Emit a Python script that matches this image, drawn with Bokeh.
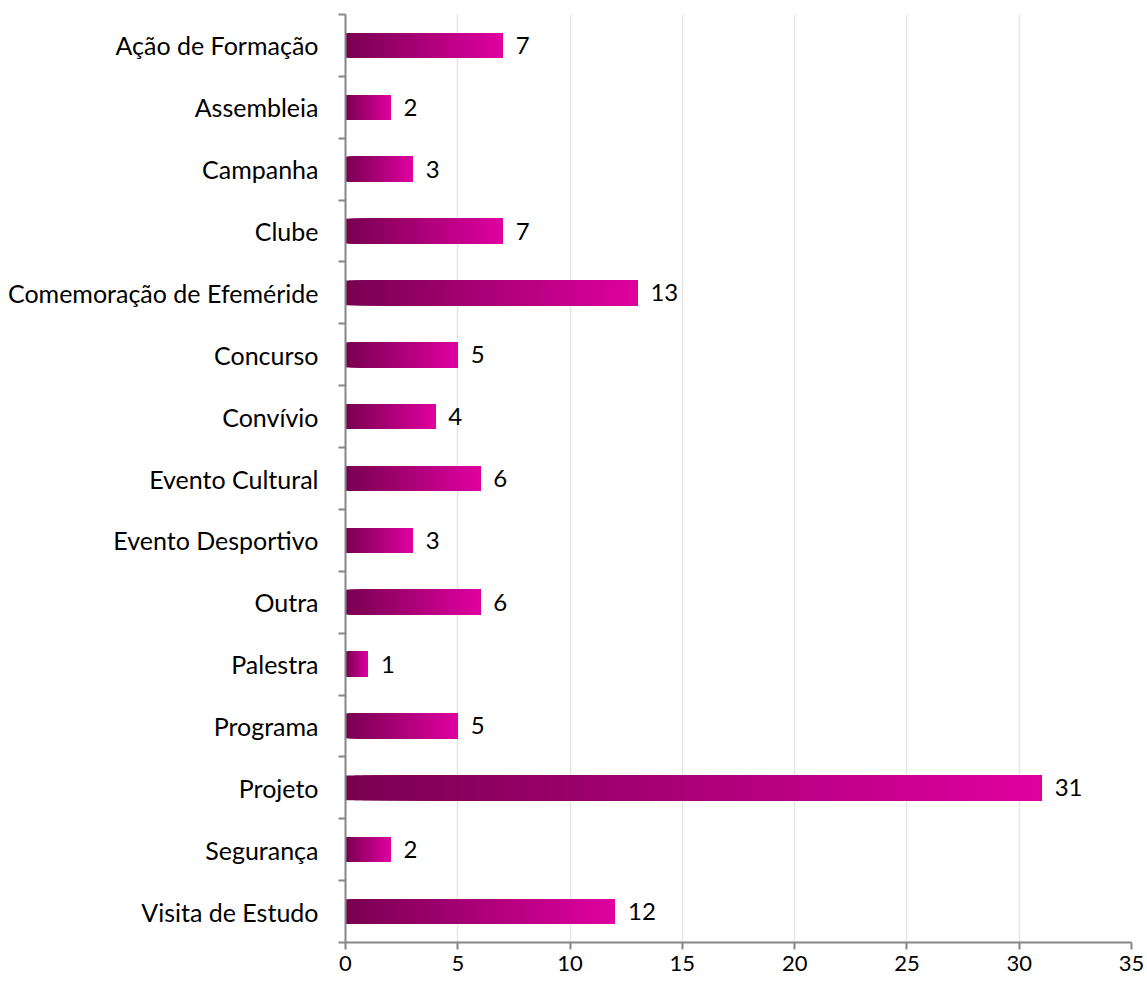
from bokeh.plotting import figure
from bokeh.models import FixedTicker, ColumnDataSource, Range1d
from bokeh.core.properties import value as val
from bokeh.embed import file_html
from bokeh.resources import INLINE

categories = ["Ação de Formação", "Assembleia", "Campanha", "Clube",
              "Comemoração de Efeméride", "Concurso", "Convívio", "Evento Cultural",
              "Evento Desportivo", "Outra", "Palestra", "Programa", "Projeto",
              "Segurança", "Visita de Estudo"]
values = [7, 2, 3, 7, 13, 5, 4, 6, 3, 6, 1, 5, 31, 2, 12]
x_ticks = [0, 5, 10, 15, 20, 25, 30, 35]

FONT = "Lato"
n = len(categories)
ypos = [n - 1 - i for i in range(n)]

p = figure(frame_width=786, frame_height=928, output_backend="svg", toolbar_location=None,
           x_range=Range1d(0, 35), y_range=Range1d(-0.5, n - 0.5),
           min_border_left=345, min_border_top=14, min_border_right=14, min_border_bottom=44)
p.outline_line_color = None
p.background_fill_color = "white"

# gradient bars: each bar drawn as stacked slices (each slice runs to the bar end)
N = 80
c0 = (0x78, 0x00, 0x50)
c1 = (0xE0, 0x00, 0xA0)
L, R, Y, C = [], [], [], []
for v, y in zip(values, ypos):
    for k in range(N):
        t = (k + 0.5) / N
        col = tuple(int(round(a + (b - a) * t)) for a, b in zip(c0, c1))
        L.append(v * k / N)
        R.append(v)
        Y.append(y)
        C.append("#%02x%02x%02x" % col)
p.hbar(y="y", left="l", right="r", height=0.4, fill_color="c", line_color=None,
       source=ColumnDataSource(dict(l=L, r=R, y=Y, c=C)))

src = ColumnDataSource(dict(x=values, y=ypos, t=[str(v) for v in values]))
p.text(x="x", y="y", text="t", source=src, x_offset=13, text_baseline="middle",
       text_align="left", text_font_size="24px", text_color="black", text_font=val(FONT))

# x axis
p.xaxis.ticker = FixedTicker(ticks=x_ticks)
p.xaxis.axis_line_color = "#868686"
p.xaxis.axis_line_width = 2
p.xaxis.major_tick_line_color = "#868686"
p.xaxis.major_tick_line_width = 2
p.xaxis.major_tick_in = 0
p.xaxis.major_tick_out = 7
p.xaxis.minor_tick_line_color = None
p.xaxis.major_label_text_font = FONT
p.xaxis.major_label_text_font_size = "22px"
p.xaxis.major_label_text_color = "black"
p.xaxis.major_label_standoff = 6

# y axis: labels at centers, ticks at boundaries
p.yaxis.ticker = FixedTicker(ticks=ypos, minor_ticks=[i - 0.5 for i in range(n + 1)])
p.yaxis.major_label_overrides = {y: c for y, c in zip(ypos, categories)}
p.yaxis.axis_line_color = "#868686"
p.yaxis.axis_line_width = 2
p.yaxis.major_tick_line_color = None
p.yaxis.major_tick_out = 0
p.yaxis.major_tick_in = 0
p.yaxis.minor_tick_line_color = "#868686"
p.yaxis.minor_tick_line_width = 2
p.yaxis.minor_tick_out = 7
p.yaxis.minor_tick_in = 0
p.yaxis.major_label_text_font = FONT
p.yaxis.major_label_text_font_size = "25px"
p.yaxis.major_label_text_color = "black"
p.yaxis.major_label_standoff = 20

p.xgrid.grid_line_color = "#e4e4e4"
p.xgrid.grid_line_width = 1.5
p.ygrid.grid_line_color = None

open("out.html", "w").write(file_html(p, INLINE))
